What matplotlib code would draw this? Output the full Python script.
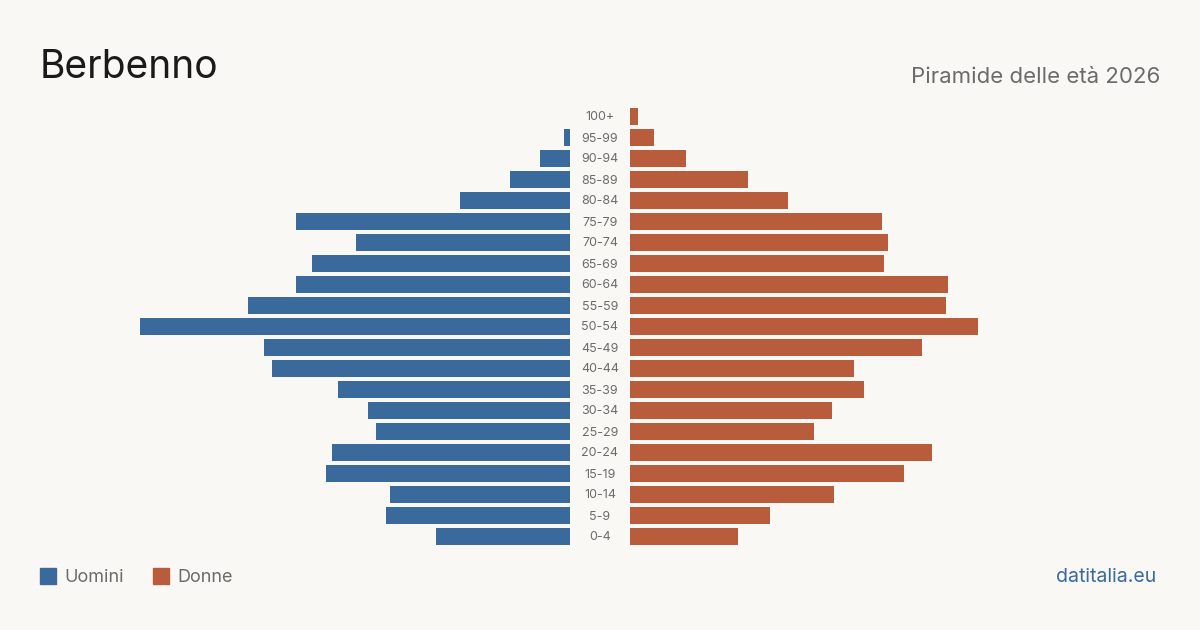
import matplotlib
matplotlib.use("Agg")
import matplotlib.pyplot as plt
from matplotlib.patches import Rectangle

AGES = ["0-4", "5-9", "10-14", "15-19", "20-24", "25-29", "30-34", "35-39",
        "40-44", "45-49", "50-54", "55-59", "60-64", "65-69", "70-74", "75-79",
        "80-84", "85-89", "90-94", "95-99", "100+"]
UOMINI = [67, 92, 90, 122, 119, 97, 101, 116, 149, 153, 215, 161, 137, 129,
          107, 137, 55, 30, 15, 3, 0]
DONNE = [54, 70, 102, 137, 151, 92, 101, 117, 112, 146, 174, 158, 159, 127,
         129, 126, 79, 59, 28, 12, 4]

BG = "#f9f8f4"
BLUE = "#3a6a9c"
RED = "#b95c3c"
GREY = "#6b6b6b"
FONT = ["Inter", "DejaVu Sans"]

W, H = 1200, 630
fig = plt.figure(figsize=(W / 100, H / 100), dpi=100, facecolor=BG)

vmax = max(UOMINI)
top_px, bot_px = 106, 547
ax_b = (H - bot_px) / H
ax_h = (bot_px - top_px) / H

axl = fig.add_axes([140 / W, ax_b, 430 / W, ax_h])
axr = fig.add_axes([630 / W, ax_b, 430 / W, ax_h])
y = list(range(len(AGES)))

axl.barh(y, UOMINI, height=0.8, color=BLUE)
axl.set_xlim(vmax, 0)
axr.barh(y, DONNE, height=0.8, color=RED)
axr.set_xlim(0, vmax)

for ax in (axl, axr):
    ax.set_ylim(-0.5, len(AGES) - 0.5)
    ax.axis("off")

# age labels in the centre gap
for i, lab in enumerate(AGES):
    yy = (bot_px - (i + 0.5) * (bot_px - top_px) / len(AGES)) + 1
    fig.text(600 / W, 1 - yy / H, lab, ha="center", va="center",
             fontsize=9, color=GREY, family=FONT)

fig.text(40 / W, 1 - 68 / H, "Berbenno", fontsize=28, color="#1a1a1a",
         ha="left", va="center", family=FONT)
fig.text(1160 / W, 1 - 77 / H, "Piramide delle età 2026", fontsize=16,
         color=GREY, ha="right", va="center", family=FONT)

# legend
fig.patches.append(Rectangle((40 / W, 1 - 584 / H), 16 / W, 16 / H,
                             transform=fig.transFigure, color=BLUE))
fig.text(64 / W, 1 - 577 / H, "Uomini", fontsize=13, color=GREY,
         ha="left", va="center", family=FONT)
fig.patches.append(Rectangle((153 / W, 1 - 584 / H), 16 / W, 16 / H,
                             transform=fig.transFigure, color=RED))
fig.text(177 / W, 1 - 577 / H, "Donne", fontsize=13, color=GREY,
         ha="left", va="center", family=FONT)

fig.text(1156 / W, 1 - 577 / H, "datitalia.eu", fontsize=14, color=BLUE,
         ha="right", va="center", family=FONT)

fig.savefig("out.png", dpi=100, facecolor=BG)
